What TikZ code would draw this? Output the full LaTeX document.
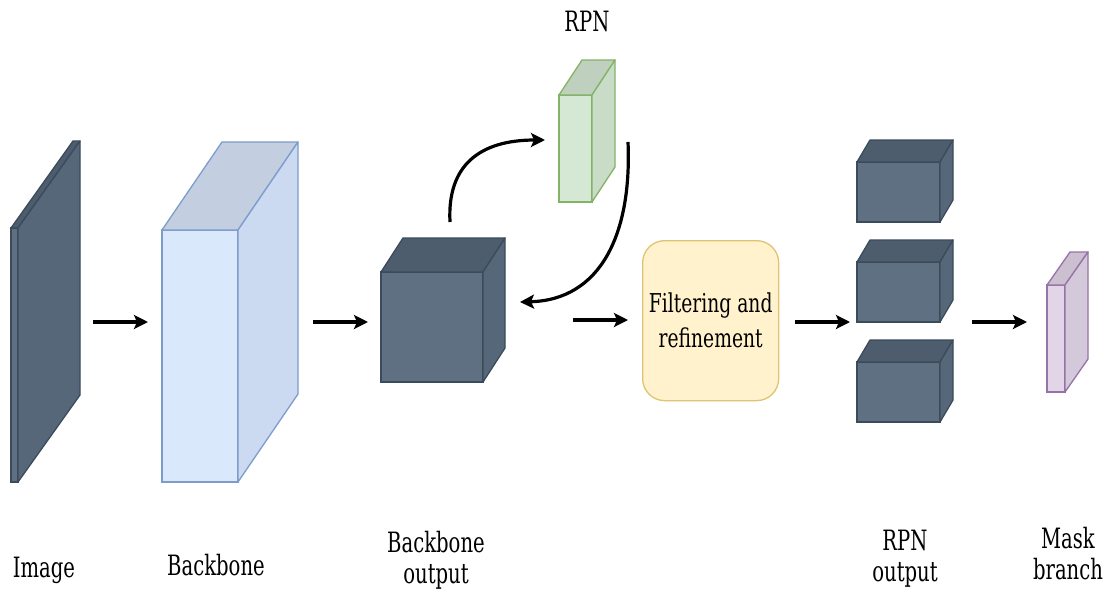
\documentclass[tikz,border=0pt]{standalone}
\usepackage{fontspec}
\usetikzlibrary{arrows.meta,calc}
\newfontfamily\labfont[FakeStretch=0.70]{DejaVu Serif}
\newfontfamily\boxfont[FakeStretch=0.72]{DejaVu Serif}
\definecolor{dkF}{HTML}{5F7082}
\definecolor{dkT}{HTML}{4D5D6D}
\definecolor{dkS}{HTML}{56677A}
\definecolor{dkD}{HTML}{3B4B5B}
\definecolor{blF}{HTML}{DAE8FC}
\definecolor{blT}{HTML}{C3CFE0}
\definecolor{blS}{HTML}{CBDAF0}
\definecolor{blD}{HTML}{7D9CCC}
\definecolor{grF}{HTML}{D5E8D4}
\definecolor{grT}{HTML}{BFD0BE}
\definecolor{grS}{HTML}{C8DCC7}
\definecolor{grD}{HTML}{82B366}
\definecolor{puF}{HTML}{E1D5E7}
\definecolor{puT}{HTML}{CBBFD0}
\definecolor{puS}{HTML}{D4C9DA}
\definecolor{puD}{HTML}{9673A6}
\definecolor{yeF}{HTML}{FFF2CC}
\definecolor{yeD}{HTML}{DFC472}
% \cubebox{name}{x}{y}{w}{h}{dx}{dy}{prefix}
\newcommand{\cubebox}[8]{%
  \node[draw=#8D, fill=#8F, line width=1.3pt, minimum width=#4pt, minimum height=#5pt,
        inner sep=0pt, outer sep=0pt, anchor=north west] (#1) at (#2,#3) {};
  \filldraw[fill=#8T, draw=#8D, line width=1.3pt, line join=round]
    (#1.north west) -- ++(#6,#7) -- ([shift={(#6,#7)}]#1.north east) -- (#1.north east) -- cycle;
  \filldraw[fill=#8S, draw=#8D, line width=1.3pt, line join=round]
    (#1.north east) -- ++(#6,#7) -- ([shift={(#6,#7)}]#1.south east) -- (#1.south east) -- cycle;
}
\tikzset{
  arr/.style={line width=3.2pt, -{Stealth[length=14pt,width=14pt,inset=3pt]}},
  lab/.style={font=\labfont\fontsize{28}{31}\selectfont, align=center, inner sep=0pt, anchor=base},
}
\begin{document}
\begin{tikzpicture}[x=1pt,y=-1pt]
\useasboundingbox (0,0) rectangle (1105,592);
\fill[white] (0,0) rectangle (1105,592);

\cubebox{img}{11}{228}{7}{254}{62}{-87}{dk}
\cubebox{bb}{162}{230}{76}{252}{60}{-88}{bl}
\cubebox{bbo}{381}{272}{102}{110}{22}{-34}{dk}
\cubebox{rpn}{559}{95}{33}{107}{23}{-35}{gr}
\cubebox{o1}{857}{162}{83}{60}{13}{-22}{dk}
\cubebox{o2}{857}{262}{83}{60}{13}{-22}{dk}
\cubebox{o3}{857}{362}{83}{60}{13}{-22}{dk}
\cubebox{mask}{1047}{285}{18}{107}{23}{-33}{pu}

\node[draw=yeD, fill=yeF, line width=1.3pt, rounded corners=22pt, minimum width=136pt,
      minimum height=160pt, inner sep=0pt, anchor=north west,
      font=\boxfont\fontsize{26}{35}\selectfont, align=center] (filt) at (642,240)
      {Filtering and\\refinement};

% arrow end points
\coordinate (a1s) at (93,322);  \coordinate (a1e) at (148,322);
\coordinate (a2s) at (313,322); \coordinate (a2e) at (368,322);
\coordinate (a3s) at (573,320); \coordinate (a3e) at (628,320);
\coordinate (a4s) at (795,322); \coordinate (a4e) at (850,322);
\coordinate (a5s) at (972,322); \coordinate (a5e) at (1027,322);
\coordinate (c1s) at (450,222); \coordinate (c1e) at (545,140);
\coordinate (c2s) at (628,142); \coordinate (c2e) at (520,302);

\draw[arr] (a1s) -- (a1e);
\draw[arr] (a2s) -- (a2e);
\draw[arr] (a3s) -- (a3e);
\draw[arr] (a4s) -- (a4e);
\draw[arr] (a5s) -- (a5e);
\draw[arr] (c1s) .. controls (447,165) and (480,140) .. (c1e);
\draw[arr] (c2s) .. controls (632,235) and (600,300) .. (c2e);

% labels (base = baseline of the last line)
\node[lab] (limg) at (44,577) {Image};
\node[lab] (lbb) at (216,575) {Backbone};
\node[lab] (lbbo) at (436,583) {Backbone\\output};
\node[lab] (lrpn) at (587,31) {RPN};
\node[lab] (lrpo) at (905,581) {RPN\\output};
\node[lab] (lmask) at (1068,579) {Mask\\branch};
\end{tikzpicture}
\end{document}
